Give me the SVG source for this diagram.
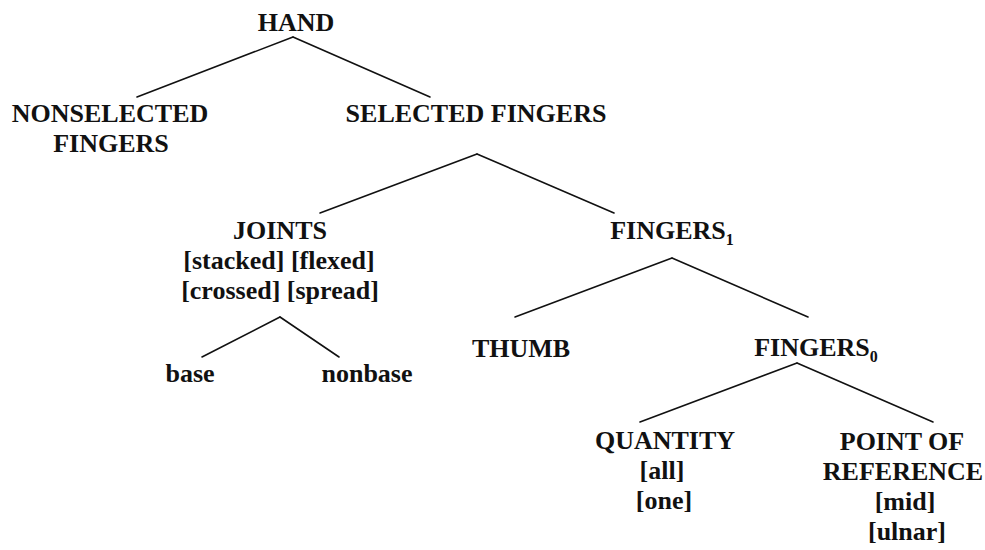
<svg xmlns="http://www.w3.org/2000/svg" width="985" height="550" viewBox="0 0 985 550">
<style>
text{font-family:"Liberation Serif","Times New Roman",serif;font-weight:bold;font-size:26px;fill:#111;text-anchor:middle}
.sub{font-size:16px}
.e line{stroke:#111;stroke-width:1.6;stroke-linecap:round}
</style>
<rect width="985" height="550" fill="#fff"/>
<g id="connectors" class="e">
<line x1="293" y1="37" x2="137" y2="97"/>
<line x1="293" y1="37" x2="430" y2="97"/>
<line x1="477" y1="154" x2="320" y2="213"/>
<line x1="477" y1="154" x2="614" y2="213"/>
<line x1="280" y1="317" x2="202" y2="357"/>
<line x1="280" y1="317" x2="339" y2="357"/>
<line x1="672" y1="258" x2="515" y2="317"/>
<line x1="672" y1="258" x2="808" y2="317"/>
<line x1="797" y1="363" x2="640" y2="422"/>
<line x1="797" y1="363" x2="933" y2="422"/>
</g>
<g id="hand"><text x="296" y="31">HAND</text></g>
<g id="nonselected"><text x="110" y="122">NONSELECTED</text><text x="111" y="152">FINGERS</text></g>
<g id="selected"><text x="476" y="122">SELECTED FINGERS</text></g>
<g id="joints"><text x="280" y="239">JOINTS</text><text x="279" y="269">[stacked] [flexed]</text><text x="280" y="299">[crossed] [spread]</text></g>
<g id="fingers1"><text x="672" y="239">FINGERS<tspan class="sub" dy="6">1</tspan></text></g>
<g id="base"><text x="190" y="382">base</text></g>
<g id="nonbase"><text x="367" y="382">nonbase</text></g>
<g id="thumb"><text x="521" y="357">THUMB</text></g>
<g id="fingers0"><text x="816" y="356">FINGERS<tspan class="sub" dy="6">0</tspan></text></g>
<g id="quantity"><text x="665" y="449">QUANTITY</text><text x="662" y="479">[all]</text><text x="664" y="509">[one]</text></g>
<g id="por"><text x="902" y="450">POINT OF</text><text x="903" y="480">REFERENCE</text><text x="905" y="510">[mid]</text><text x="907" y="540">[ulnar]</text></g>
</svg>
